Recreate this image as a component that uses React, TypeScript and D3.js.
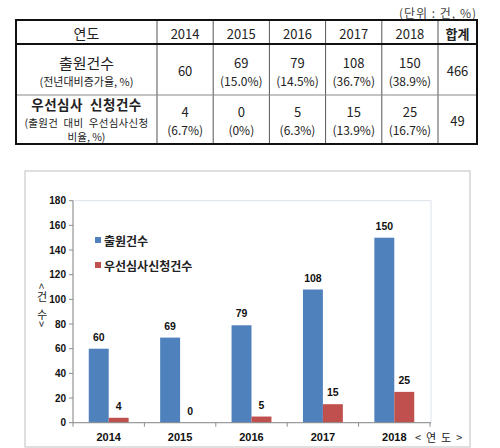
import * as d3 from "d3";

const years = ["2014", "2015", "2016", "2017", "2018"];
const applications = [60, 69, 79, 108, 150];
const applicationGrowth = ["", "(15.0%)", "(14.5%)", "(36.7%)", "(38.9%)"];
const priorityRequests = [4, 0, 5, 15, 25];
const priorityRatio = ["(6.7%)", "(0%)", "(6.3%)", "(13.9%)", "(16.7%)"];
const totals = [466, 49];
const seriesNames = ["출원건수", "우선심사신청건수"];
const seriesColors = ["#4F81BD", "#C0504D"];
const yTicks = [0, 20, 40, 60, 80, 100, 120, 140, 160, 180];

const KR = "'Noto Sans CJK KR', 'Noto Sans', sans-serif";
const NUM = "'Liberation Sans', Arial, sans-serif";

const Table = () => {
  const left = 16;
  const right = 477;
  const top = 20;
  const rowLines = [20, 44, 95, 144];
  const col = d3.scaleBand<string>().domain(years).range([157, 438]);
  const cx = (y: string) => col(y)! + col.bandwidth() / 2;
  const totalX = (438 + right) / 2;
  const firstX = (left + 157) / 2;

  return (
    <g fontFamily={KR} fill="#222">
      <text x={right} y={12} textAnchor="end" fontSize={12} dominantBaseline="central" fill="#444" letterSpacing={1}>
        (단위 : 건, %)
      </text>
      {/* vertical dividers */}
      {[157, ...years.map((y) => col(y)! + col.bandwidth())].map((x, i) => (
        <line key={i} x1={x} x2={x} y1={top} y2={rowLines[3]} stroke="#555" strokeWidth={1} />
      ))}
      <line x1={left} x2={right} y1={rowLines[1]} y2={rowLines[1]} stroke="#111" strokeWidth={2} />
      <line x1={left} x2={right} y1={rowLines[2]} y2={rowLines[2]} stroke="#888" strokeWidth={1} />
      <rect x={left} y={top} width={right - left} height={rowLines[3] - top} fill="none" stroke="#111" strokeWidth={2} />

      {/* header */}
      <text x={firstX} y={33} textAnchor="middle" dominantBaseline="central" fontSize={14}>연도</text>
      {years.map((y) => (
        <text key={y} x={cx(y)} y={33} textAnchor="middle" dominantBaseline="central" fontSize={13}>{y}</text>
      ))}
      <text x={totalX} y={33} textAnchor="middle" dominantBaseline="central" fontSize={13} fontWeight="bold">합계</text>

      {/* row 1 */}
      <text x={firstX} y={62} textAnchor="middle" dominantBaseline="central" fontSize={15}>출원건수</text>
      <text x={firstX} y={81} textAnchor="middle" dominantBaseline="central" fontSize={11}>(전년대비증가율, %)</text>
      {years.map((y, i) =>
        applicationGrowth[i] ? (
          <g key={y}>
            <text x={cx(y)} y={62} textAnchor="middle" dominantBaseline="central" fontSize={13}>{applications[i]}</text>
            <text x={cx(y)} y={80} textAnchor="middle" dominantBaseline="central" fontSize={12}>{applicationGrowth[i]}</text>
          </g>
        ) : (
          <text key={y} x={cx(y)} y={70} textAnchor="middle" dominantBaseline="central" fontSize={13}>{applications[i]}</text>
        )
      )}
      <text x={totalX} y={70} textAnchor="middle" dominantBaseline="central" fontSize={13}>{totals[0]}</text>

      {/* row 2 */}
      <text x={firstX} y={104} textAnchor="middle" dominantBaseline="central" fontSize={13.5} fontWeight="bold" letterSpacing={0.5} style={{ whiteSpace: "pre" }}>
        우선심사  신청건수
      </text>
      <text x={firstX} y={122} textAnchor="middle" dominantBaseline="central" fontSize={10.5} letterSpacing={0.3} style={{ whiteSpace: "pre" }}>
        (출원건  대비  우선심사신청
      </text>
      <text x={firstX} y={136.5} textAnchor="middle" dominantBaseline="central" fontSize={10.5}>비율, %)</text>
      {years.map((y, i) => (
        <g key={y}>
          <text x={cx(y)} y={111} textAnchor="middle" dominantBaseline="central" fontSize={13}>{priorityRequests[i]}</text>
          <text x={cx(y)} y={129} textAnchor="middle" dominantBaseline="central" fontSize={12}>{priorityRatio[i]}</text>
        </g>
      ))}
      <text x={totalX} y={120} textAnchor="middle" dominantBaseline="central" fontSize={13}>{totals[1]}</text>
    </g>
  );
};

const BarChart = () => {
  const plotLeft = 73;
  const plotRight = 431;
  const plotTop = 200.7;
  const plotBottom = 422.7;

  const x0 = d3.scaleBand<string>().domain(years).range([plotLeft, plotRight - 1]);
  const x1 = d3
    .scaleBand<number>()
    .domain([0, 1])
    .range([0, x0.bandwidth()])
    .paddingInner(0)
    .paddingOuter(0.79);
  const y = d3.scaleLinear().domain([0, 180]).range([plotBottom, plotTop]);
  const series = [applications, priorityRequests];
  const boundaries = [...years.map((yr) => x0(yr)!), x0(years[years.length - 1])! + x0.bandwidth()];

  return (
    <g>
      <rect x={25} y={171} width={445} height={276} fill="#fff" stroke="#bfbfbf" strokeWidth={1} />
      {/* plot area frame */}
      <rect x={plotLeft} y={plotTop} width={plotRight - plotLeft} height={plotBottom - plotTop} fill="none" stroke="#dde3ea" strokeWidth={1} />

      {/* y axis */}
      <line x1={plotLeft} x2={plotLeft} y1={plotTop} y2={plotBottom} stroke="#8c8c8c" />
      {yTicks.map((t) => (
        <g key={t}>
          <line x1={plotLeft - 4} x2={plotLeft} y1={y(t)} y2={y(t)} stroke="#8c8c8c" />
          <text x={plotLeft - 7} y={y(t)} textAnchor="end" dominantBaseline="central" fontFamily={NUM} fontWeight="bold" fontSize={10} fill="#111">
            {t}
          </text>
        </g>
      ))}

      {/* bars */}
      {years.map((yr, i) => (
        <g key={yr}>
          {series.map((s, j) => (
            <g key={j}>
              <rect
                x={x0(yr)! + x1(j)!}
                y={y(s[i])}
                width={x1.bandwidth()}
                height={plotBottom - y(s[i])}
                fill={seriesColors[j]}
              />
              <text
                x={x0(yr)! + x1(j)! + x1.bandwidth() / 2}
                y={y(s[i]) - 8}
                textAnchor="middle"
                fontFamily={NUM}
                fontWeight="bold"
                fontSize={10.5}
                fill="#111"
              >
                {s[i]}
              </text>
            </g>
          ))}
        </g>
      ))}

      {/* x axis */}
      <line x1={plotLeft} x2={plotRight} y1={plotBottom} y2={plotBottom} stroke="#8c8c8c" />
      {boundaries.map((b, i) => (
        <line key={i} x1={b} x2={b} y1={plotBottom} y2={plotBottom + 4} stroke="#8c8c8c" />
      ))}
      {years.map((yr) => (
        <text key={yr} x={x0(yr)! + x0.bandwidth() / 2} y={437} textAnchor="middle" dominantBaseline="central" fontFamily={NUM} fontWeight="bold" fontSize={11} fill="#111">
          {yr}
        </text>
      ))}
      <text x={415} y={437} dominantBaseline="central" fontFamily={KR} fontSize={11} fill="#222" style={{ whiteSpace: "pre" }}>
        &lt;  연  도  &gt;
      </text>

      {/* y axis label */}
      <g fontFamily={KR} fontSize={11} fill="#222" textAnchor="middle">
        <text transform="translate(42,286) rotate(90)" dominantBaseline="central">&lt;</text>
        <text x={42} y={296} dominantBaseline="central">건</text>
        <text x={42} y={314} dominantBaseline="central">수</text>
        <text transform="translate(42,324) rotate(90)" dominantBaseline="central">&gt;</text>
      </g>

      {/* legend */}
      {seriesNames.map((n, j) => (
        <g key={n}>
          <rect x={95} y={237 + j * 25} width={6} height={6} fill={seriesColors[j]} />
          <text x={104} y={240.5 + j * 25} dominantBaseline="central" fontFamily={KR} fontWeight="bold" fontSize={12} fill="#222">
            {n}
          </text>
        </g>
      ))}
    </g>
  );
};

const App = () => {
  return (
    <svg width={500} height={448} style={{ position: "absolute", left: 0, top: 0, background: "#fff" }}>
      <Table />
      <BarChart />
    </svg>
  );
};

export default App;
